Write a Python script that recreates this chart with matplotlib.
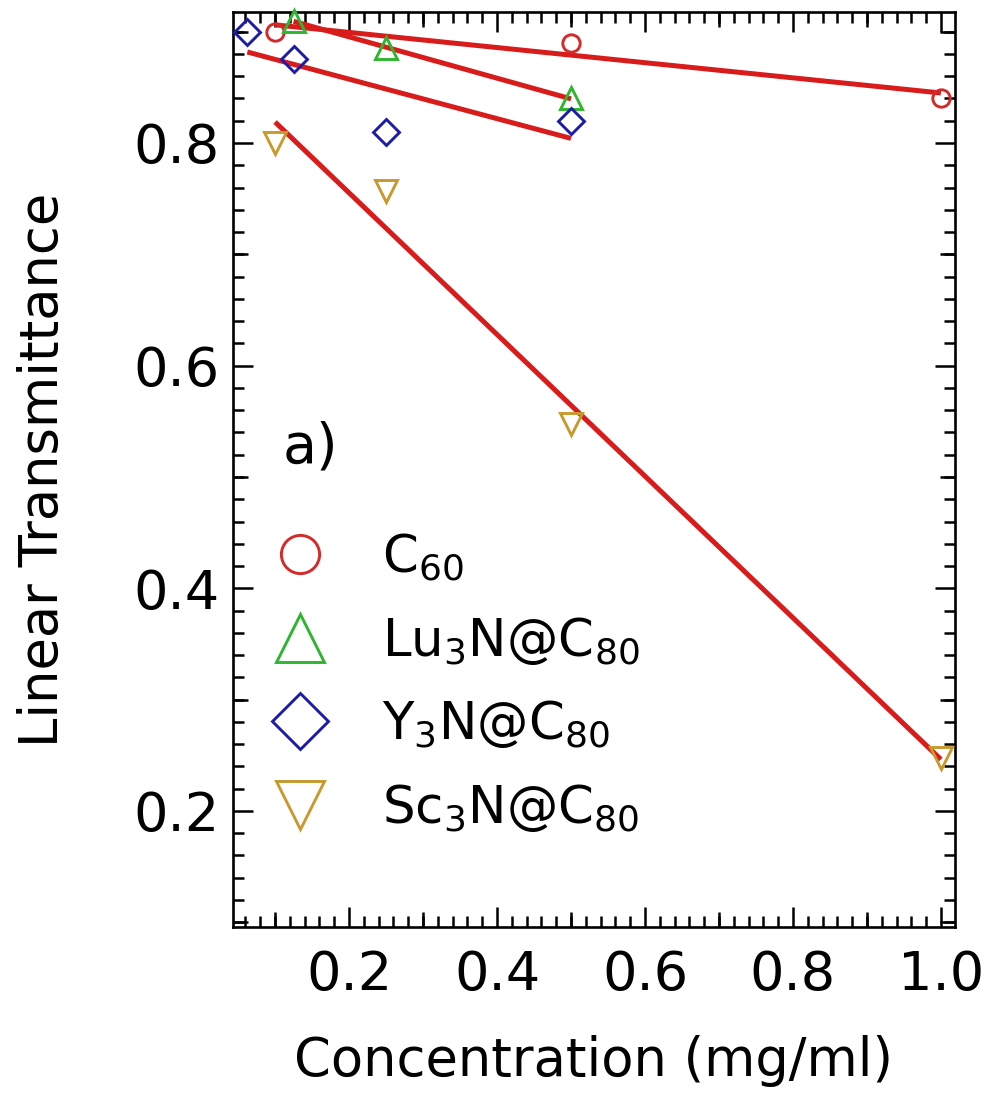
import numpy as np
import matplotlib as mpl
mpl.use('Agg')
from matplotlib import pyplot as plt
from matplotlib.lines import Line2D

# concentration (mg/ml) and linear transmittance for each fullerene
c60_conc = [0.1, 0.5, 1.0]
c60_trans = [0.90, 0.89, 0.84]

lu_conc = [0.125, 0.25, 0.5]
lu_trans = [0.91, 0.885, 0.84]

y_conc = [0.0625, 0.125, 0.25, 0.5]
y_trans = [0.90, 0.875, 0.81, 0.82]

sc_conc = [0.1, 0.25, 0.5, 1.0]
sc_trans = [0.80, 0.757, 0.548, 0.248]

SERIES = [
    (c60_conc, c60_trans, 'o', '#d42a2a', 12.5, r'C$_{60}$'),
    (lu_conc, lu_trans, '^', '#2fb52f', 16.0, r'Lu$_3$N@C$_{80}$'),
    (y_conc, y_trans, 'D', '#1c1ca6', 13.0, r'Y$_3$N@C$_{80}$'),
    (sc_conc, sc_trans, 'v', '#c89a2e', 16.0, r'Sc$_3$N@C$_{80}$'),
]
FIT_COLOR = '#d81c1c'

plt.rcParams['font.family'] = ['DejaVu Sans']
plt.rcParams['mathtext.fontset'] = 'dejavusans'

fig = plt.figure(figsize=(9.9, 10.97), dpi=100)
ax = fig.add_axes([0.2354, 0.1550, 0.9646 - 0.2354, 0.9891 - 0.1550])

handles = []
for conc, trans, mk, col, ms, lab in SERIES:
    conc = np.array(conc)
    trans = np.array(trans)
    # straight-line fit over the measured range
    slope, icpt = np.polyfit(conc, trans, 1)
    xf = np.array([conc.min(), conc.max()])
    ax.plot(xf, slope * xf + icpt, '-', color=FIT_COLOR, lw=3.6, zorder=3,
            solid_capstyle='butt')
    ax.plot(conc, trans, linestyle='none', marker=mk, ms=ms, mfc='none',
            mec=col, mew=2.1, zorder=4, clip_on=False)
    handles.append(Line2D([], [], linestyle='none', marker=mk, ms=ms, mfc='none',
                          mec=col, mew=2.1, label=lab))

ax.set_xlim(0.0432, 1.019)
ax.set_ylim(0.0958, 0.9177)

ax.set_xticks([0.2, 0.4, 0.6, 0.8, 1.0])
ax.set_yticks([0.2, 0.4, 0.6, 0.8])
ax.set_xticks(np.arange(0.06, 1.02, 0.02), minor=True)
ax.set_yticks(np.arange(0.10, 0.92, 0.02), minor=True)
ax.xaxis.set_major_formatter(mpl.ticker.FormatStrFormatter('%.1f'))
ax.yaxis.set_major_formatter(mpl.ticker.FormatStrFormatter('%.1f'))

ax.tick_params(which='both', direction='in', top=True, right=True, width=1.8,
               labelsize=39, color='black')
ax.tick_params(which='major', length=14.5)
ax.tick_params(axis='x', which='major', pad=16)
ax.tick_params(axis='y', which='major', pad=10)
ax.tick_params(which='minor', length=8)
for sp in ax.spines.values():
    sp.set_linewidth(1.9)

# medium ticks at the odd tenths on all four sides
for loc in ['bottom', 'top']:
    sec = ax.secondary_xaxis(loc)
    sec.set_xticks([0.1, 0.3, 0.5, 0.7, 0.9])
    sec.tick_params(direction='in', length=11, width=1.8, labelbottom=False,
                    labeltop=False)
    sec.spines[loc].set_visible(False)
for loc in ['left', 'right']:
    sec = ax.secondary_yaxis(loc)
    sec.set_yticks([0.1, 0.3, 0.5, 0.7, 0.9])
    sec.tick_params(direction='in', length=11, width=1.8, labelleft=False,
                    labelright=False)
    sec.spines[loc].set_visible(False)

ax.set_xlabel('Concentration (mg/ml)', fontsize=38, labelpad=24)
ax.set_ylabel('Linear Transmittance', fontsize=38, labelpad=46)

ax.text(0.069, 0.508, 'a)', transform=ax.transAxes, fontsize=40,
        ha='left', va='baseline')

leg = ax.legend(handles=handles, loc='upper left', bbox_to_anchor=(-0.014, 0.472),
                frameon=False, fontsize=37, markerscale=2.2, handlelength=1.6,
                handletextpad=0.8, labelspacing=0.62, borderaxespad=0.3)

fig.savefig('out.png', dpi=100)
